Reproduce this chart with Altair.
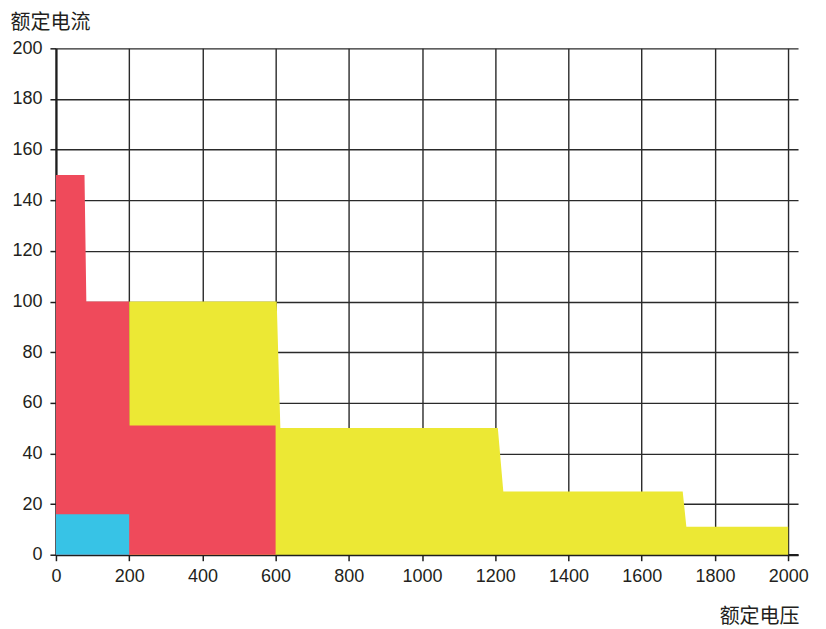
import altair as alt
import pandas as pd

# Yellow region (rated voltage vs rated current)
yellow_v = [200, 603, 613, 1207, 1222, 1712, 1722, 2000]
yellow_i = [100, 100, 50, 50, 25, 25, 11, 11]
# Red region
red_v = [0, 78, 83, 199.5, 200.5, 600]
red_i = [150, 150, 100, 100, 51, 51]
# Blue region
blue_v = [0, 200]
blue_i = [16, 16]

x_ticks = [0, 200, 400, 600, 800, 1000, 1200, 1400, 1600, 1800, 2000]
y_ticks = [0, 20, 40, 60, 80, 100, 120, 140, 160, 180, 200]

def frame(v, i, name):
    return pd.DataFrame({"v": v, "i": i, "s": name})

colors = {"yellow": "#ECE834", "red": "#EF4A5B", "blue": "#37C3E6"}

x_enc = alt.X("v:Q", scale=alt.Scale(domain=[0, 2027], nice=False, zero=False),
              axis=alt.Axis(values=x_ticks, title="额定电压", titleAngle=0,
                            titleAlign="right", titleBaseline="alphabetic",
                            titleX=744, titleY=68, format="d",
                            labelPadding=7, labelFlush=False))
y_enc = alt.Y("i:Q", stack=None, scale=alt.Scale(domain=[0, 200], nice=False),
              axis=alt.Axis(values=y_ticks, title="额定电流", titleAngle=0,
                            titleAlign="left", titleBaseline="alphabetic",
                            titleX=-46, titleY=-20, labelPadding=8,
                            labelFlush=False))

def area(df, color):
    return alt.Chart(df).mark_area(color=color, opacity=1, interpolate="linear").encode(
        x=x_enc, y=y_enc)

chart = alt.layer(
    area(frame(yellow_v, yellow_i, "yellow"), colors["yellow"]),
    area(frame(red_v, red_i, "red"), colors["red"]),
    area(frame(blue_v, blue_i, "blue"), colors["blue"]),
).properties(
    width=743, height=507,
    autosize=alt.AutoSizeParams(type="none"),
    padding={"left": 48, "top": 40, "right": 20, "bottom": 80},
).configure_view(stroke=None).configure_axis(
    zindex=1,
    grid=True, gridColor="#2a2a2a", gridWidth=1.4, gridOpacity=1,
    domainColor="#1e1e1e", domainWidth=2.2,
    tickColor="#1e1e1e", tickSize=6, tickWidth=1.5,
    labelFont="Liberation Sans", labelFontSize=18, labelColor="#231f20",
    titleFont="Noto Sans CJK SC", titleFontSize=20, titleFontWeight="normal",
    titleColor="#231f20",
)

chart.save("out.html", embed_options={"renderer": "svg", "actions": False})
